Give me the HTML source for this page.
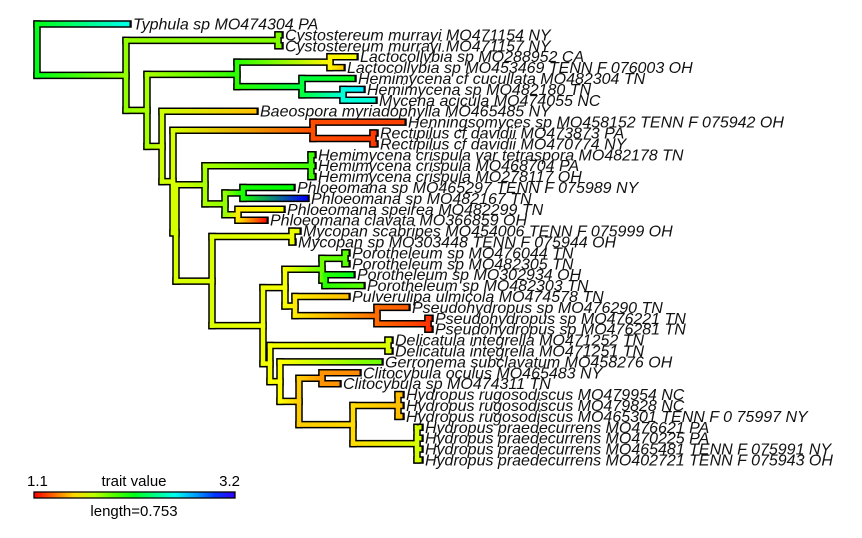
<!DOCTYPE html>
<html><head><meta charset="utf-8"><style>
html,body{margin:0;padding:0;background:#fff;}
svg{display:block;}
text{font-family:"Liberation Sans",sans-serif;}
.tl{font-style:italic;font-size:16px;fill:#111;}
</style></head><body>
<svg id="chart" width="862" height="538" viewBox="0 0 862 538">
<defs id="defs"><linearGradient id="lg" x1="0" x2="1" y1="0" y2="0"></linearGradient></defs>
<g id="black"></g>
<g id="color"></g>
<g id="labels"></g>
<g>
<text x="27" y="486" font-size="15">1.1</text>
<text x="134" y="486" font-size="15" text-anchor="middle">trait value</text>
<text x="240" y="486" font-size="15" text-anchor="end">3.2</text>
<rect x="34" y="492" width="201" height="6" fill="url(#lg)" stroke="#000" stroke-width="1.3"/>
<text x="134" y="516" font-size="15" text-anchor="middle">length=0.753</text>
</g>
</svg>
<script>
// tree data: parent index, depth (tree units from root), trait value, tip label
const parents=[-1,0,0,2,3,3,2,6,7,8,8,7,11,11,13,13,6,16,16,18,19,19,21,21,18,24,25,26,26,26,25,30,31,31,30,34,34,24,37,38,38,37,41,42,43,44,44,43,47,47,42,50,50,52,52,54,54,41,57,58,58,57,61,61,63,64,64,63,67,68,68,68,67,72,72,72,72];
const depths=[0,91,89,241,243,243,110,200,293,318,305,265,316,306,325,337,125,218,136,276,366,336,338,338,139,168,274,276,276,276,188,206,255,269,201,245,228,175,255,261,256,226,248,285,308,310,310,288,315,325,258,310,340,370,391,393,393,233,351,353,353,243,343,262,285,321,301,316,361,364,364,364,380,383,383,383,383];
const traits=[2.14,2.56,1.81,1.85,1.85,1.85,1.77,2.02,1.58,1.62,1.50,2.22,2.14,2.53,2.64,2.52,1.70,1.475,1.68,1.25,1.225,1.22,1.2,1.2,1.68,1.77,1.975,1.99,1.99,1.99,1.81,2.06,2.1,3.1,1.56,1.62,1.14,1.67,1.64,1.65,1.65,1.63,1.62,1.89,1.93,1.93,1.93,2.02,2.14,1.93,1.56,1.475,1.31,1.28,1.2,1.18,1.18,1.62,1.67,1.67,1.67,1.6,1.89,1.5,1.39,1.37,1.39,1.53,1.475,1.475,1.475,1.475,1.68,1.7,1.7,1.7,1.7];
const labels={1:"Typhula sp MO474304 PA",4:"Cystostereum murrayi MO471154 NY",5:"Cystostereum murrayi MO471157 NY",9:"Lactocollybia sp MO288952 CA",10:"Lactocollybia sp MO453469 TENN F 076003 OH",12:"Hemimycena cf cucullata MO482304 TN",14:"Hemimycena sp MO482180 TN",15:"Mycena acicula MO474055 NC",17:"Baeospora myriadophylla MO465485 NY",20:"Henningsomyces sp MO458152 TENN F 075942 OH",22:"Rectipilus cf davidii MO473873 PA",23:"Rectipilus cf davidii MO470774 NY",27:"Hemimycena crispula var tetraspora MO482178 TN",28:"Hemimycena crispula MO468704 PA",29:"Hemimycena crispula MO278117 OH",32:"Phloeomana sp MO465297 TENN F 075989 NY",33:"Phloeomana sp MO482167 TN",35:"Phloeomana speirea MO482299 TN",36:"Phloeomana clavata MO366859 OH",39:"Mycopan scabripes MO454006 TENN F 075999 OH",40:"Mycopan sp MO303448 TENN F 075944 OH",45:"Porotheleum sp MO476044 TN",46:"Porotheleum sp MO482305 TN",48:"Porotheleum sp MO302934 OH",49:"Porotheleum sp MO482303 TN",51:"Pulverulipa ulmicola MO474578 TN",53:"Pseudohydropus sp MO476290 TN",55:"Pseudohydropus sp MO476221 TN",56:"Pseudohydropus sp MO476281 TN",59:"Delicatula integrella MO471252 TN",60:"Delicatula integrella MO471251 TN",62:"Gerronema subclavatum MO458276 OH",65:"Clitocybula oculus MO465483 NY",66:"Clitocybula sp MO474311 TN",69:"Hydropus rugosodiscus MO479954 NC",70:"Hydropus rugosodiscus MO479828 NC",71:"Hydropus rugosodiscus MO465301 TENN F 0 75997 NY",73:"Hydropus praedecurrens MO476621 PA",74:"Hydropus praedecurrens MO470225 PA",75:"Hydropus praedecurrens MO465481 TENN F 075991 NY",76:"Hydropus praedecurrens MO402721 TENN F 075943 OH"};
const traitRange=[1.1,3.2];

const NS="http://www.w3.org/2000/svg";
const xScale=d=>37+d;
const yTip=i=>24+i*10.9;
function col(t){let f=(t-traitRange[0])/(traitRange[1]-traitRange[0]);f=Math.max(0,Math.min(1,f));return "hsl("+(f*252).toFixed(1)+",100%,50%)";}
const n=parents.length;
const kids=[...Array(n)].map(()=>[]);
for(let i=1;i<n;i++)kids[parents[i]].push(i);
const Y=new Array(n);let tipCount=0;
function setY(i){if(kids[i].length===0){Y[i]=yTip(tipCount++);return;}kids[i].forEach(setY);const ys=kids[i].map(k=>Y[k]);Y[i]=(Math.min(...ys)+Math.max(...ys))/2;}
setY(0);
const defs=document.getElementById('defs'),gB=document.getElementById('black'),gC=document.getElementById('color'),gL=document.getElementById('labels');
const lg=document.getElementById('lg');
for(let s=0;s<=10;s++){const st=document.createElementNS(NS,'stop');st.setAttribute('offset',s/10);st.setAttribute('stop-color',col(traitRange[0]+s/10*(traitRange[1]-traitRange[0])));lg.appendChild(st);}
function line(g,x1,y1,x2,y2,stroke,w,cap){const l=document.createElementNS(NS,'line');l.setAttribute('x1',x1);l.setAttribute('y1',y1);l.setAttribute('x2',x2);l.setAttribute('y2',y2);l.setAttribute('stroke',stroke);l.setAttribute('stroke-width',w);l.setAttribute('stroke-linecap',cap);return l;}
for(let i=1;i<n;i++){const p=parents[i];const x1=xScale(depths[p]),x2=xScale(depths[i]);
const l=line(gB,x1,Y[i],x2,Y[i],'#000',7.5,'square');


gB.appendChild(l);}
for(let i=0;i<n;i++){if(!kids[i].length)continue;const ys=kids[i].map(k=>Y[k]);
const l=line(gB,xScale(depths[i]),Math.min(...ys),xScale(depths[i]),Math.max(...ys),'#000',7.5,'square');


gB.appendChild(l);}
for(let i=0;i<n;i++){if(!kids[i].length)continue;const ys=kids[i].map(k=>Y[k]);
const l=line(gC,xScale(depths[i]),Math.min(...ys)-2.2,xScale(depths[i]),Math.max(...ys)+2.2,col(traits[i]),4.5,'butt');


gC.appendChild(l);}
for(let i=1;i<n;i++){const p=parents[i];const x1=xScale(depths[p]),x2=xScale(depths[i]);
const gid='g'+i;const gr=document.createElementNS(NS,'linearGradient');gr.setAttribute('id',gid);gr.setAttribute('gradientUnits','userSpaceOnUse');gr.setAttribute('x1',x1);gr.setAttribute('x2',Math.max(x2,x1+0.1));gr.setAttribute('y1',0);gr.setAttribute('y2',0);
const a=document.createElementNS(NS,'stop');a.setAttribute('offset',0);a.setAttribute('stop-color',col(traits[p]));
const b=document.createElementNS(NS,'stop');b.setAttribute('offset',1);b.setAttribute('stop-color',col(traits[i]));gr.appendChild(a);gr.appendChild(b);defs.appendChild(gr);
const l=line(gC,x1-2.2,Y[i],x2+(kids[i].length?2.2:1.5),Y[i],'url(#'+gid+')',4.5,'butt');


gC.appendChild(l);
if(labels[i]){const t=document.createElementNS(NS,'text');t.setAttribute('class','tl');t.setAttribute('x',x2+5);t.setAttribute('y',Y[i]+5.5);t.textContent=labels[i];


gL.appendChild(t);}}
</script>
</body></html>
